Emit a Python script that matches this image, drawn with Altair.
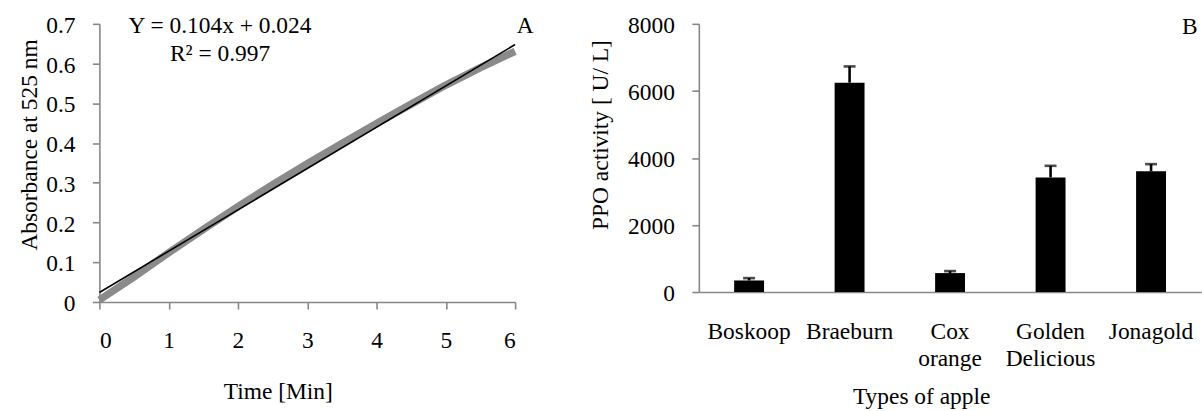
import altair as alt
import pandas as pd

# ---- Panel A: absorbance at 525 nm during the PPO assay ----
time_min = [0, 0.5, 1, 1.5, 2, 2.5, 3, 3.5, 4, 4.5, 5, 5.5, 6]
absorbance = [0.005, 0.063, 0.124, 0.183, 0.240, 0.295, 0.348,
              0.399, 0.449, 0.498, 0.546, 0.590, 0.631]

# linear trendline as reported on the chart
slope, intercept, r_squared = 0.104, 0.024, 0.997
trend_x = [0, 6]

# ---- Panel B: PPO activity per apple cultivar ----
apples = ["Boskoop", "Braeburn", "Cox orange", "Golden Delicious", "Jonagold"]
activity = [345, 6245, 565, 3420, 3600]
activity_sd = [70, 485, 60, 345, 215]

FONT = "Liberation Serif"
FS = 23.5
AXIS_GREY = "#878787"

kinetics = pd.DataFrame({"time": time_min, "abs": absorbance})
trend = pd.DataFrame({"time": trend_x,
                      "abs": [slope * t + intercept for t in trend_x]})
one_row = pd.DataFrame({"k": [0]})

time_scale = alt.Scale(domain=[0, 6], nice=False)
abs_scale = alt.Scale(domain=[0, 0.7], nice=False)
time_axis = alt.Axis(
    values=[0, 1, 2, 3, 4, 5, 6], format="d", title="Time [Min]", grid=False,
    tickSize=7, labelPadding=39, labelBaseline="alphabetic",
    titleX=179, titleY=97, titleBaseline="alphabetic", titleAlign="center",
)
abs_axis = alt.Axis(
    values=[0, 0.1, 0.2, 0.3, 0.4, 0.5, 0.6, 0.7], format=".1~f",
    title="Absorbance at 525 nm", grid=False,
    tickSize=7, labelPadding=17.5, labelBaseline="alphabetic", labelOffset=8.5,
    titleX=-63.5, titleY=121, titleAlign="center", titleBaseline="alphabetic",
    titleAngle=-90,
)
x_time = alt.X("time:Q", scale=time_scale, axis=time_axis)
y_abs = alt.Y("abs:Q", scale=abs_scale, axis=abs_axis)

measured = alt.Chart(kinetics).mark_line(
    color="#8a8a8a", strokeWidth=7.5, strokeCap="butt"
).encode(x=x_time, y=y_abs)

fit_line = alt.Chart(trend).mark_line(
    color="black", strokeWidth=1.6
).encode(x=x_time, y=y_abs)

text_style = dict(font=FONT, fontSize=FS, align="center",
                  baseline="alphabetic", color="black")

eq_text = alt.Chart(one_row).mark_text(
    text=f"Y = {slope}x + {intercept}", **text_style
).encode(x=alt.value(121), y=alt.value(9))

r2_text = alt.Chart(one_row).mark_text(
    text=f"R² = {r_squared}", **text_style
).encode(x=alt.value(121), y=alt.value(37.5))

letter_a = alt.Chart(one_row).mark_text(
    text="A", **text_style
).encode(x=alt.value(427), y=alt.value(9))

panel_a = alt.layer(measured, fit_line, eq_text, r2_text, letter_a).properties(
    width=417, height=279
)

# ---- Panel B ----
cultivars = pd.DataFrame({
    "apple": apples,
    "activity": activity,
    "upper": [a + s for a, s in zip(activity, activity_sd)],
})

apple_scale = alt.Scale(paddingInner=0, paddingOuter=0)
apple_axis = alt.Axis(
    title="Types of apple", labelAngle=0, ticks=False, tickSize=0, grid=False,
    labelExpr="split(datum.label, ' ')", labelLineHeight=27,
    labelPadding=46.5, labelBaseline="alphabetic",
    titleX=223, titleY=112, titleAlign="center", titleBaseline="alphabetic",
)
act_scale = alt.Scale(domain=[0, 8000], nice=False)
act_axis = alt.Axis(
    values=[0, 2000, 4000, 6000, 8000], format="d",
    title="PPO activity [ U/ L]", grid=False,
    tickSize=7, labelPadding=17.5, labelBaseline="alphabetic", labelOffset=8.5,
    titleX=-92, titleY=111, titleAlign="center", titleBaseline="alphabetic",
    titleAngle=-90,
)
x_apple = alt.X("apple:N", sort=apples, scale=apple_scale, axis=apple_axis)

base_b = alt.Chart(cultivars)
bars = base_b.mark_bar(color="black", size=30).encode(
    x=x_apple, y=alt.Y("activity:Q", scale=act_scale, axis=act_axis)
)
err_rule = base_b.mark_rule(color="black", strokeWidth=2.6).encode(
    x=x_apple, y=alt.Y("activity:Q", scale=act_scale, axis=act_axis), y2="upper:Q"
)
err_cap = base_b.mark_tick(
    color="black", orient="horizontal", size=12, thickness=2.6
).encode(x=x_apple, y=alt.Y("upper:Q", scale=act_scale, axis=act_axis))

letter_b = alt.Chart(one_row).mark_text(
    text="B", **text_style
).encode(x=alt.value(492.5), y=alt.value(10.5))

panel_b = alt.layer(bars, err_rule, err_cap, letter_b).properties(
    width=504, height=269
)

chart = alt.hconcat(panel_a, panel_b, spacing=184.3, bounds="flush").properties(
    padding={"left": 16.7, "top": 12.3, "right": 0, "bottom": 0},
    background="white",
).configure_view(stroke=None).configure_axis(
    grid=False,
    domainColor=AXIS_GREY, domainWidth=1.6,
    tickColor=AXIS_GREY, tickWidth=1.6,
    labelFont=FONT, labelFontSize=FS, labelColor="black",
    titleFont=FONT, titleFontSize=FS, titleColor="black", titleFontWeight="normal",
)

chart.save("out.html", embed_options={"renderer": "svg", "actions": False})
